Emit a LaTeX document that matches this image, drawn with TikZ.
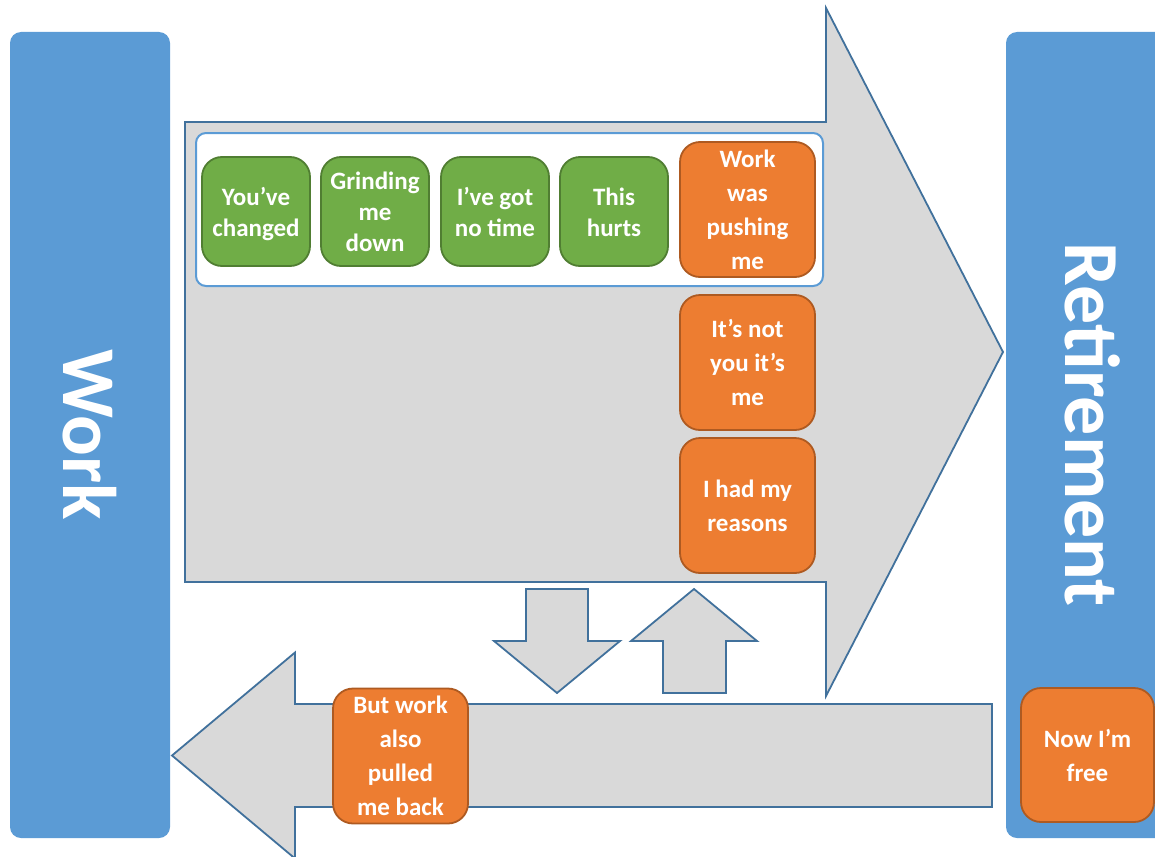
\documentclass[tikz,border=0pt]{standalone}
\usepackage{fontspec}
\setmainfont{Carlito}
\definecolor{barblue}{HTML}{5B9BD5}
\definecolor{arrowfill}{HTML}{D9D9D9}
\definecolor{arrowline}{HTML}{41719C}
\definecolor{leafgreen}{HTML}{70AD47}
\definecolor{leafgreenline}{HTML}{507E32}
\definecolor{tangerine}{HTML}{ED7D31}
\definecolor{tangerineline}{HTML}{AE5A21}
% centred lines with a taller first line, so the block sits a little lower
\newcommand{\cardlines}[1]{\begin{tabular}{@{}c@{}}\rule{0pt}{28pt}#1\end{tabular}}
\tikzset{
  bar/.style={fill=barblue, draw=none, rounded corners=11pt, inner sep=0pt,
    text=white, font=\bfseries\fontsize{76}{80}\selectfont},
  barlabel/.style={rotate=-90, inner sep=0pt, text=white,
    font=\bfseries\fontsize{78}{82}\selectfont},
  flow/.style={fill=arrowfill, draw=arrowline, line width=1.8pt, line join=miter},
  frame/.style={fill=white, draw=barblue, line width=2pt, rounded corners=10pt},
  card/.style={rounded corners=20pt, line width=1.8pt, inner sep=0pt, align=center,
    text=white, minimum width=108pt, minimum height=109pt},
  greencard/.style={card, fill=leafgreen, draw=leafgreenline,
    font=\bfseries\fontsize{25}{31}\selectfont},
  orangecard/.style={card, fill=tangerine, draw=tangerineline,
    minimum width=135pt, minimum height=135pt,
    font=\bfseries\fontsize{25}{34}\selectfont},
}
\begin{document}
\begin{tikzpicture}[x=1pt, y=-1pt]
\useasboundingbox (0,0) rectangle (1155,856);
\clip (0,0) rectangle (1155,856);

% end points: the two blue bars
\node[bar, rotate=-90, minimum width=806pt, minimum height=160pt] (work) at (90,435) {Work};
\node[bar, rotate=-90, minimum width=806pt, minimum height=168pt] (retire) at (1090,435) {};
\node[barlabel] (retirelabel) at (1093,425) {Retirement};

% forward arrow towards retirement
\draw[flow] (185,122) -- (826,122) -- (826,8) -- (1003,352) -- (826,696)
  -- (826,582) -- (185,582) -- cycle;

% return arrow back to work
\draw[flow] (992,704) -- (295,704) -- (295,652.5) -- (172,755.5) -- (295,858.5)
  -- (295,807) -- (992,807) -- cycle;

% small down and up arrows between the two
\draw[flow] (526,589) -- (588,589) -- (588,641) -- (620,641) -- (557,693)
  -- (494,641) -- (526,641) -- cycle;
\draw[flow] (663,693) -- (726,693) -- (726,641) -- (757,641) -- (694,589)
  -- (631,641) -- (663,641) -- cycle;

% frame holding the first row of reasons
\draw[frame] (196,133) rectangle (823,286);

% reasons
\node[greencard] (changed) at (256,211.5) {\cardlines{You’ve\\changed}};
\node[greencard] (grinding) at (375,211.5) {\cardlines{Grinding\\me\\down}};
\node[greencard] (notime) at (495,211.5) {\cardlines{I’ve got\\no time}};
\node[greencard] (hurts) at (614,211.5) {\cardlines{This\\hurts}};
\node[orangecard] (pushing) at (747.5,209.5) {Work\\was\\pushing\\me};
\node[orangecard] (notyou) at (747.5,362.5) {It’s not\\you it’s\\me};
\node[orangecard] (reasons) at (747.5,505.5) {I had my\\reasons};
\node[orangecard] (pulled) at (400.5,756) {But work\\also\\pulled\\me back};
\node[orangecard, minimum width=133pt, minimum height=134pt] (free) at (1087.5,755) {Now I’m\\free};
\end{tikzpicture}
\end{document}
